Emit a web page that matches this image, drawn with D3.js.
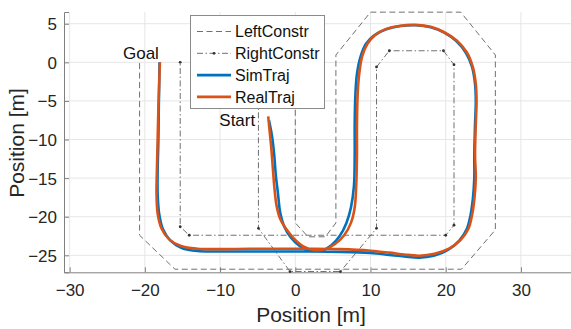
<!DOCTYPE html>
<html><head><meta charset="utf-8">
<script src="https://cdn.jsdelivr.net/npm/d3@7"></script>
<style>body{margin:0;background:#fff;} svg{display:block;} text{font-family:"Liberation Sans",Arial,sans-serif;}</style>
</head><body>
<svg id="c" width="571" height="329"></svg>
<script>
// ---- data ----
const xTicks = [-30, -20, -10, 0, 10, 20, 30];
const yTicks = [-25, -20, -15, -10, -5, 0, 5];
const legendLabels = ["LeftConstr", "RightConstr", "SimTraj", "RealTraj"];

const leftConstr = [[0,0],[0,-20.8],[1.7,-22.6],[4,-22.6],[5.4,-20.8],[5.4,0.95],[10,6.5],[22,6.5],[26.6,0.95],[26.6,-21.7],[22.1,-26.8],[-16,-26.8],[-20.7,-22.4],[-20.7,0]];
const rightConstr = [[-4.9,0],[-4.9,-21.5],[-0.7,-27.1],[6.0,-27.1],[10.8,-21.5],[10.8,-0.6],[12.5,1.5],[19.7,1.5],[21.1,-0.3],[21.1,-21.1],[20.0,-22.4],[-14.1,-22.4],[-15.3,-21.3],[-15.3,0]];

const realTraj = [[-3.6,-7.0],[-3.4,-9.0],[-3.2,-11],[-3.0,-13.5],[-2.8,-16],[-2.5,-18.5],[-2.0,-20.3],[-1.2,-21.6],[-0.2,-22.8],[1.0,-23.8],[2.4,-24.3],[3.8,-24.25],[5.2,-23.6],[6.5,-22.4],[7.4,-20.8],[7.9,-18.8],[8.1,-16],[8.2,-12],[8.2,-8],[8.3,-4],[8.5,-1.5],[8.9,0.8],[9.6,2.4],[10.6,3.5],[12,4.3],[14,4.75],[16,4.85],[18,4.6],[19.8,3.9],[21.5,2.8],[22.8,1.3],[23.6,-0.6],[24.0,-2.8],[24.1,-5],[24.0,-8],[23.9,-12],[24.0,-15],[23.8,-17.8],[23.5,-19.8],[23.0,-21.6],[22.0,-23.0],[20.5,-24.1],[18.5,-24.8],[16.5,-25.05],[14.5,-24.9],[12.5,-24.65],[10,-24.4],[6,-24.2],[2,-24.15],[-2,-24.15],[-6,-24.15],[-10,-24.2],[-13,-24.15],[-15.2,-23.8],[-16.8,-22.9],[-17.8,-21.5],[-18.3,-19.6],[-18.45,-17],[-18.4,-14],[-18.3,-10],[-18.2,-6],[-18.1,-3],[-18.0,0]];
const simTraj = [[-3.5,-7.5],[-3.1,-9.5],[-2.8,-12],[-2.6,-14.5],[-2.3,-17],[-2.0,-19.5],[-1.5,-21.2],[-0.6,-22.7],[0.6,-23.8],[2.0,-24.4],[3.5,-24.4],[4.8,-23.7],[5.9,-22.5],[6.8,-20.8],[7.4,-18.8],[7.8,-16],[7.9,-12],[7.9,-8],[8.0,-4],[8.2,-1.5],[8.7,0.8],[9.4,2.4],[10.5,3.5],[12,4.25],[14,4.7],[16,4.8],[18,4.55],[19.8,3.85],[21.4,2.75],[22.7,1.2],[23.5,-0.6],[23.9,-2.8],[24.0,-5],[23.9,-8],[23.8,-12],[23.8,-15],[23.6,-17.8],[23.3,-19.8],[22.8,-21.6],[21.8,-23.1],[20.3,-24.3],[18.4,-25.05],[16.5,-25.3],[14.5,-25.15],[12.5,-24.95],[10,-24.7],[6,-24.55],[2,-24.5],[-2,-24.5],[-6,-24.5],[-10,-24.5],[-13,-24.45],[-15.1,-24.05],[-16.6,-23.1],[-17.6,-21.6],[-18.1,-19.6],[-18.3,-17],[-18.3,-14],[-18.2,-10],[-18.15,-6],[-18.1,-3],[-18.05,0]];

const annotations = [{text:"Goal", x:-18, y:0}, {text:"Start", x:-3.6, y:-7}];

// ---- layout ----
const svg = d3.select("#c");
const L = 64, R = 571.7, T = 12, B = 272.3;
const x = d3.scaleLinear().domain([-30.75, 36.75]).range([L, R]);
const y = d3.scaleLinear().domain([-27.2, 6.52]).range([B, T]);

const colBlue = "#0072BD", colOrange = "#D95319", constrCol = "#707070";

// grid
const grid = svg.append("g");
grid.selectAll("line.gx").data(xTicks).join("line")
  .attr("x1", d => x(d)).attr("x2", d => x(d)).attr("y1", T).attr("y2", B)
  .attr("stroke", "#e6e6e6").attr("stroke-width", 1);
grid.selectAll("line.gy").data(yTicks).join("line")
  .attr("y1", d => y(d)).attr("y2", d => y(d)).attr("x1", L).attr("x2", 571)
  .attr("stroke", "#e6e6e6").attr("stroke-width", 1);

// axes
const axCol = "#808080";
const xAxis = svg.append("g").attr("transform", `translate(0,${B})`)
  .call(d3.axisBottom(x).tickValues(xTicks).tickSize(-5).tickPadding(12).tickFormat(d3.format("d")));
const yAxis = svg.append("g").attr("transform", `translate(${L},0)`)
  .call(d3.axisLeft(y).tickValues(yTicks).tickSize(-5).tickPadding(7).tickFormat(d3.format("d")));
[xAxis, yAxis].forEach(g => {
  g.select(".domain").attr("stroke", axCol);
  g.selectAll(".tick line").attr("stroke", axCol);
  g.selectAll(".tick text").attr("fill", "#262626").style("font-size", "17px").style("font-family", "Liberation Sans, Arial, sans-serif");
});
xAxis.selectAll(".tick text").attr("dy", "0.71em");
yAxis.selectAll(".tick text").attr("dy", "0.35em");

// lines
const line = d3.line().x(d => x(d[0])).y(d => y(d[1]));
const smooth = d3.line().x(d => x(d[0])).y(d => y(d[1])).curve(d3.curveCatmullRom.alpha(0.5));
const plot = svg.append("g");
plot.append("path").datum(leftConstr).attr("d", line).attr("fill", "none")
  .attr("stroke", constrCol).attr("stroke-width", 1).attr("stroke-dasharray", "6,3.5");
plot.append("path").datum(rightConstr).attr("d", line).attr("fill", "none")
  .attr("stroke", constrCol).attr("stroke-width", 1).attr("stroke-dasharray", "6,2.5,1.5,2.5");
plot.selectAll("circle.rc").data(rightConstr).join("circle")
  .attr("cx", d => x(d[0])).attr("cy", d => y(d[1])).attr("r", 1.4).attr("fill", "#333");
plot.append("path").datum(simTraj).attr("d", smooth).attr("fill", "none")
  .attr("stroke", colBlue).attr("stroke-width", 2.6).attr("stroke-linejoin", "round");
plot.append("path").datum(realTraj).attr("d", smooth).attr("fill", "none")
  .attr("stroke", colOrange).attr("stroke-width", 2.6).attr("stroke-linejoin", "round");

// annotations
svg.append("text").attr("x", x(annotations[0].x) - 1).attr("y", y(annotations[0].y) - 3)
  .attr("text-anchor", "end").style("font-size", "17px").attr("fill", "#111").text(annotations[0].text);
svg.append("text").attr("x", x(annotations[1].x) - 13).attr("y", y(annotations[1].y) + 10)
  .attr("text-anchor", "end").style("font-size", "17px").attr("fill", "#111").text(annotations[1].text);

// axis labels
svg.append("text").attr("x", 311).attr("y", 322).attr("text-anchor", "middle")
  .style("font-size", "21px").attr("fill", "#262626").text("Position [m]");
svg.append("text").attr("transform", "translate(24,143) rotate(-90)").attr("text-anchor", "middle")
  .style("font-size", "21px").attr("fill", "#262626").text("Position [m]");

// legend
const lg = svg.append("g");
lg.append("rect").attr("x", 190.5).attr("y", 15.5).attr("width", 134).attr("height", 93)
  .attr("fill", "#fff").attr("stroke", "#8a8a8a").attr("stroke-width", 1);
const rows = [31.5, 53.3, 75.1, 96.9];
const styles = [
  {c: constrCol, w: 1, da: "6,3.5", dot: false},
  {c: constrCol, w: 1, da: "6,2.5,1.5,2.5", dot: true},
  {c: colBlue, w: 2.6, da: null, dot: false},
  {c: colOrange, w: 2.6, da: null, dot: false}
];
legendLabels.forEach((lab, i) => {
  const s = styles[i];
  const ln = lg.append("line").attr("x1", 197).attr("x2", 231).attr("y1", rows[i]).attr("y2", rows[i])
    .attr("stroke", s.c).attr("stroke-width", s.w);
  if (s.da) ln.attr("stroke-dasharray", s.da);
  if (s.dot) lg.append("circle").attr("cx", 214).attr("cy", rows[i]).attr("r", 1.4).attr("fill", "#333");
  lg.append("text").attr("x", 235).attr("y", rows[i]).attr("dy", "0.35em")
    .style("font-size", "16px").attr("fill", "#111").text(lab);
});
</script>
</body></html>
